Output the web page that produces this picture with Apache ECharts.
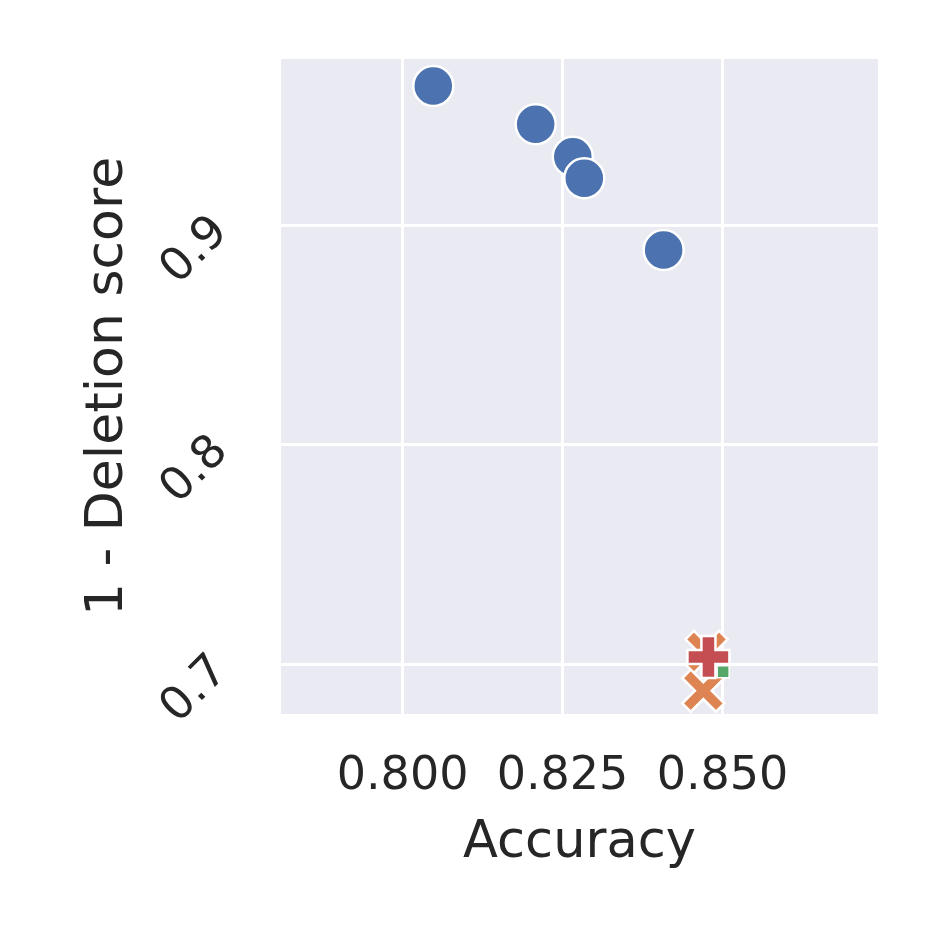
<!DOCTYPE html>
<html><head><meta charset="utf-8">
<script src="https://cdn.jsdelivr.net/npm/echarts@6/dist/echarts.min.js"></script>
<style>html,body{margin:0;padding:0;background:#fff}#c{width:934px;height:934px}</style>
</head><body><div id="c"></div>
<script>
const blueX = [0.8048, 0.8208, 0.8266, 0.8284, 0.8408];
const blueY = [0.9633, 0.9459, 0.9311, 0.9213, 0.8886];
const orangeX = [0.8475, 0.8470];
const orangeY = [0.7055, 0.6878];
const greenX = [0.8501];
const greenY = [0.6964];
const redX = [0.8478];
const redY = [0.7032];
const xTicks = [0.800, 0.825, 0.850];
const yTicks = [0.7, 0.8, 0.9];
const xLabel = 'Accuracy';
const yLabel = '1 - Deletion score';

const zip = (a, b) => a.map((v, i) => [v, b[i]]);
const X_PATH = 'path://M0,2 L2,0 L5,3 L8,0 L10,2 L7,5 L10,8 L8,10 L5,7 L2,10 L0,8 L3,5 Z';
const P_PATH = 'path://M3.33,0 L6.67,0 L6.67,3.33 L10,3.33 L10,6.67 L6.67,6.67 L6.67,10 L3.33,10 L3.33,6.67 L0,6.67 L0,3.33 L3.33,3.33 Z';
const txt = '#262626';
const font = 'DejaVu Sans';

const chart = echarts.init(document.getElementById('c'), null, {renderer: 'canvas'});
chart.setOption({
  backgroundColor: '#fff',
  animation: false,
  grid: {left: 281, top: 59, width: 597, height: 655, backgroundColor: '#EAEAF2', show: true, borderWidth: 0},
  xAxis: {
    type: 'value', min: 0.7810, max: 0.8743,
    name: xLabel, nameLocation: 'middle', nameGap: 104,
    nameTextStyle: {fontFamily: font, fontSize: 51, color: txt},
    axisLine: {show: false}, axisTick: {show: false, customValues: xTicks},
    axisLabel: {customValues: xTicks, formatter: v => v.toFixed(3), fontFamily: font, fontSize: 46, color: txt, margin: 40},
    splitLine: {show: true, lineStyle: {color: '#fff', width: 3}}
  },
  yAxis: {
    type: 'value', min: 0.6772, max: 0.9756,
    name: yLabel, nameLocation: 'middle', nameGap: 147, nameRotate: 90,
    nameTextStyle: {fontFamily: font, fontSize: 52, color: txt},
    axisLine: {show: false}, axisTick: {show: false, customValues: yTicks},
    axisLabel: {customValues: yTicks, formatter: v => v.toFixed(1), rotate: 45, fontFamily: font, fontSize: 46, color: txt, margin: 60},
    splitLine: {show: true, lineStyle: {color: '#fff', width: 3}}
  },
  series: [
    {type: 'scatter', data: zip(blueX, blueY), symbol: 'circle', symbolSize: 40,
     itemStyle: {color: '#4C72B0', borderColor: '#fff', borderWidth: 2.5, opacity: 1}, z: 2},
    {type: 'scatter', data: zip(orangeX, orangeY), symbol: X_PATH, symbolSize: 42,
     itemStyle: {color: '#DD8452', borderColor: '#fff', borderWidth: 2.5, opacity: 1}, z: 3},
    {type: 'scatter', data: zip(greenX, greenY), symbol: 'rect', symbolSize: 12,
     itemStyle: {color: '#55A868', borderColor: '#fff', borderWidth: 1.5, opacity: 1}, z: 4},
    {type: 'scatter', data: zip(redX, redY), symbol: P_PATH, symbolSize: 42,
     itemStyle: {color: '#C44E52', borderColor: '#fff', borderWidth: 2.5, opacity: 1}, z: 5}
  ]
});
</script></body></html>
